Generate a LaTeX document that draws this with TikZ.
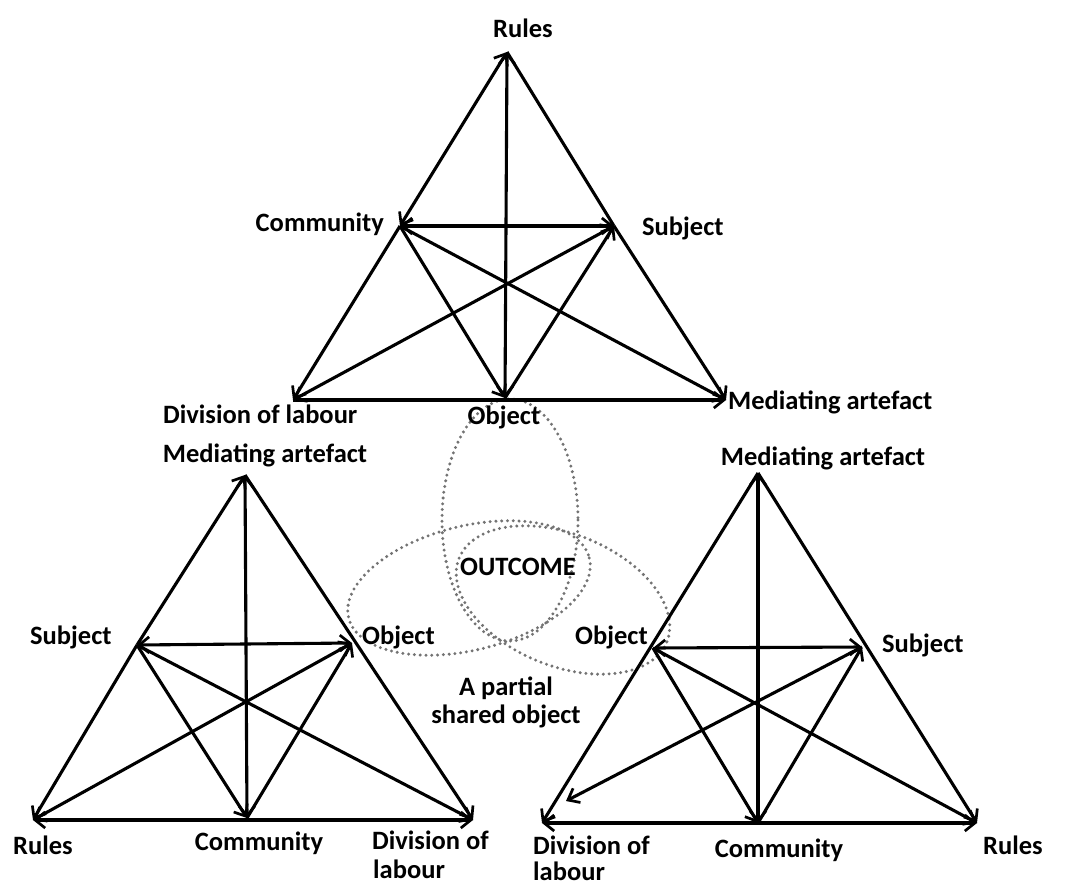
\documentclass[tikz,border=0pt]{standalone}
\usepackage{fontspec}
\setmainfont{Carlito}
\usetikzlibrary{arrows.meta}
\begin{document}
\begin{tikzpicture}[x=1pt,y=-1pt,
  edge/.style={line width=3.1pt,black},
  ar/.style={edge,-{Straight Barb[length=10pt,width=16pt,line width=2.7pt]}},
  rar/.style={edge,{Straight Barb[length=10pt,width=16pt,line width=2.7pt]}-{Straight Barb[length=10pt,width=16pt,line width=2.7pt]}},
  lbl/.style={font=\fontsize{26.5}{29}\selectfont\bfseries,inner sep=0pt},
  ell/.style={draw=black!55,line width=3.3pt,line cap=round,dash pattern=on 0pt off 5.8pt}]
\useasboundingbox (0,0) rectangle (1065,889);
\fill[white] (0,0) rectangle (1065,889);

% ellipses
\draw[ell] (510,520) ellipse [x radius=68, y radius=121];
\draw[ell,rotate around={14:(469,588)}] (469,588) ellipse [x radius=124, y radius=62];
\draw[ell,rotate around={-22:(563,600)}] (563,600) ellipse [x radius=112, y radius=66];

% ---------- top triangle ----------
\coordinate (TA) at (507,52);
\coordinate (TC) at (400,226);
\coordinate (TS) at (614,226);
\coordinate (TD) at (293,400);
\coordinate (TO) at (505,398);
\coordinate (TM) at (726,400);
\draw[rar] (TA) -- (TC);
\draw[ar] (TC) -- (TD);
\draw[edge] (TA) -- (TS);
\draw[ar] (TS) -- (TM);
\draw[rar] (TA) -- (TO);
\draw[rar] (TC) -- (TS);
\draw[ar] (TC) -- (TO);
\draw[ar] (TC) -- (TM);
\draw[rar] (TS) -- (TD);
\draw[ar] (TO) -- (TS);
\draw[ar] (TD) -- (TM);

\node[lbl] (tRules) at (523,28) {Rules};
\node[lbl,anchor=east] (tComm) at (384,224) {Community};
\node[lbl,anchor=west] (tSubj) at (642,228) {Subject};
\node[lbl,anchor=west] (tDiv) at (163,414) {Division of labour};
\node[lbl] (tObj) at (504,417) {Object};
\node[lbl,anchor=west] (tMed) at (728,402) {Mediating artefact};

% ---------- lower-left triangle ----------
\coordinate (LA) at (245,475);
\coordinate (LS) at (137,645);
\coordinate (LO) at (352,643);
\coordinate (LR) at (33,820);
\coordinate (LC) at (247,818);
\coordinate (LD) at (473,820);
\draw[ar] (LS) -- (LA);
\draw[ar] (LS) -- (LR);
\draw[ar] (LA) -- (LD);
\draw[rar] (LA) -- (LC);
\draw[rar] (LS) -- (LO);
\draw[rar] (LR) -- (LO);
\draw[ar] (LC) -- (LO);
\draw[ar] (LS) -- (LC);
\draw[ar] (LS) -- (LD);
\draw[rar] (LR) -- (LD);

\node[lbl] (lMed) at (265,455) {Mediating artefact};
\node[lbl,anchor=west] (lSubj) at (30,637) {Subject};
\node[lbl,anchor=west] (lObj) at (362,637) {Object};
\node[lbl,anchor=west] (lRules) at (13,845) {Rules};
\node[lbl] (lComm) at (259,843) {Community};
\node[lbl,anchor=west] (lDiv) at (372,840) {Division of};
\node[lbl,anchor=west] (lLab) at (373,869) {labour};

% ---------- lower-right triangle ----------
\coordinate (RA) at (758,473);
\coordinate (RO) at (653,648);
\coordinate (RS) at (862,647);
\coordinate (RD) at (542,823);
\coordinate (RC) at (758,823);
\coordinate (RR) at (977,823);
\coordinate (RE) at (566,801);
\draw[ar] (RA) -- (RD);
\draw[ar] (RA) -- (RR);
\draw[rar] (RA) -- (RC);
\draw[rar] (RO) -- (RS);
\draw[ar] (RS) -- (RE);
\draw[ar] (RO) -- (RC);
\draw[ar] (RC) -- (RS);
\draw[ar] (RO) -- (RR);
\draw[rar] (RD) -- (RR);

\node[lbl] (rMed) at (823,458) {Mediating artefact};
\node[lbl,anchor=west] (rObj) at (575,637) {Object};
\node[lbl,anchor=west] (rSubj) at (882,645) {Subject};
\node[lbl,anchor=west] (rDiv) at (533,845) {Division of};
\node[lbl,anchor=west] (rLab) at (533,871) {labour};
\node[lbl] (rComm) at (779,850) {Community};
\node[lbl,anchor=west] (rRules) at (983,845) {Rules};

% ---------- centre texts ----------
\node[lbl] (outc) at (518,567) {OUTCOME};
\node[lbl] (part1) at (506,688) {A partial};
\node[lbl] (part2) at (506,716) {shared object};
\end{tikzpicture}
\end{document}
